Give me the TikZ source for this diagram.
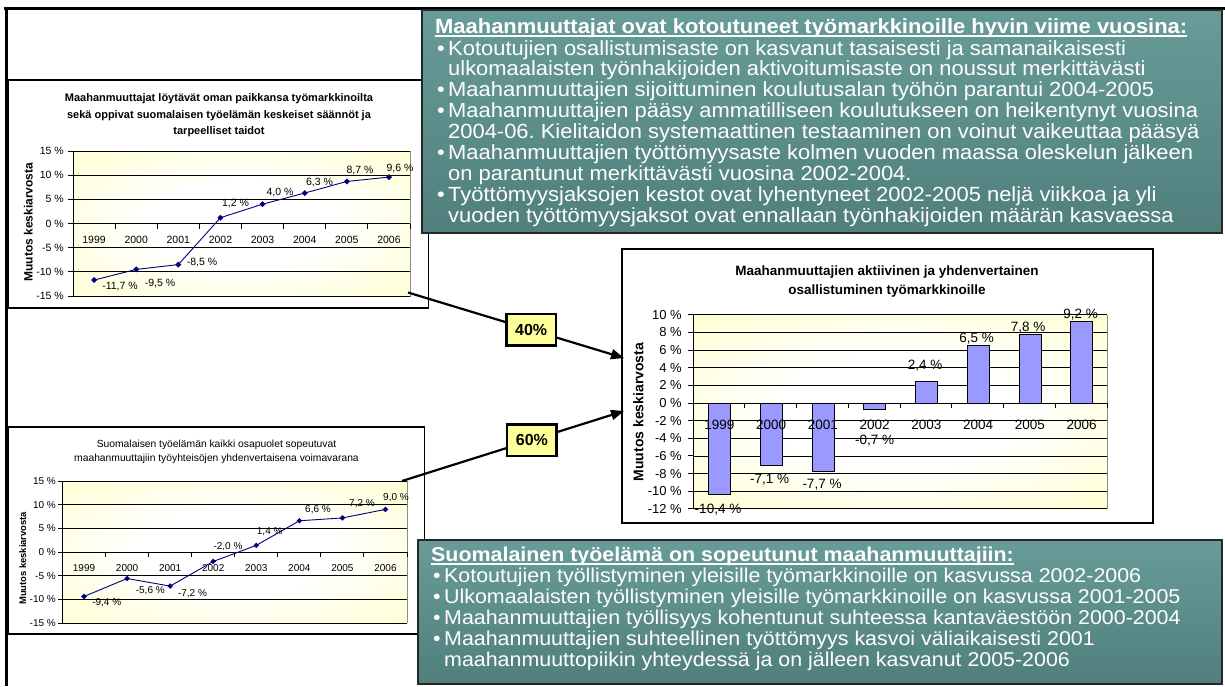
\documentclass[tikz,border=0pt]{standalone}
\usepackage{fontspec}
\setmainfont{Liberation Sans}
\newfontfamily\topboxfont[FakeStretch=1.07]{Liberation Sans}
\newfontfamily\lowboxfont[FakeStretch=1.07]{Liberation Sans}
\usetikzlibrary{arrows.meta}
\definecolor{plotyellow}{RGB}{255,255,180}
\definecolor{tealtop}{RGB}{104,156,152}
\definecolor{tealbot}{RGB}{80,127,124}
\definecolor{navyline}{RGB}{0,0,128}
\definecolor{barblue}{RGB}{153,153,255}
\definecolor{boxyellow}{RGB}{255,255,153}
\newcommand{\px}[1]{\fontsize{#1}{#1}\selectfont}
% soft white centre fading to pale yellow towards the plot edges
\pgfdeclareradialshading{plotglow}{\pgfpoint{0bp}{0bp}}{color(0bp)=(white); color(14bp)=(white); color(50bp)=(plotyellow); color(60bp)=(plotyellow)}
\frenchspacing
\begin{document}
\begin{tikzpicture}[x=1pt,y=-1pt,
  chartframe/.style={draw=black, line width=1.2},
  plotframe/.style={draw=black!45, line width=0.8},
  gridline/.style={draw=black, line width=0.8},
  axisline/.style={draw=black, line width=0.9},
  dataline/.style={draw=navyline, line width=0.9},
  barstyle/.style={draw=black, line width=0.8, fill=barblue},
  tlnum/.style={inner sep=0, font=\px{10.5}},
  blnum/.style={inner sep=0, font=\px{10}},
  rnum/.style={inner sep=0, font=\px{13.5}},
  tealbox/.style={draw=black!85, line width=1.8, top color=tealtop, bottom color=tealbot},
  tealtext/.style={inner sep=0, anchor=base west, text=white, font=\topboxfont\px{20.5}},
  tealhead/.style={tealtext, font=\topboxfont\bfseries\px{20.5}},
  lowtext/.style={tealtext, font=\lowboxfont\px{20}},
  lowhead/.style={tealtext, font=\lowboxfont\bfseries\px{20}},
  pctbox/.style={draw=black, line width=2.5, fill=boxyellow, minimum width=49.5, minimum height=31.5, inner sep=0, font=\bfseries\px{16}},
  link/.style={draw=black, line width=2.2, -{Triangle[length=13,width=10]}}
]
\useasboundingbox (0,0) rectangle (1225,686);
\fill[white] (0,0) rectangle (1225,686);

% page frame
\draw[line width=3] (4,8.5) -- (1225,8.5);
\draw[line width=3] (6.5,7) -- (6.5,686);

% chart frames
\draw[chartframe] (8,80) rectangle (428.5,308);
\draw[chartframe] (8,427) rectangle (424.5,634);
\draw[chartframe] (622,249) rectangle (1153,523);

% ---------- upper left line chart ----------
\node[align=center, font=\bfseries\fontsize{11}{16.5}\selectfont] (tltitle) at (219,115.5)
  {Maahanmuuttajat löytävät oman paikkansa työmarkkinoilta\\sekä oppivat suomalaisen työelämän keskeiset säännöt ja\\tarpeelliset taidot};
\shade[shading=plotglow] (73,151) rectangle (410,296.5);
\foreach \v in {15,10,...,-15}{
  \draw[gridline] (73,{223.5-4.833*\v}) -- (410,{223.5-4.833*\v});
  \draw[axisline] (73,{223.5-4.833*\v}) -- ++(-5,0);
  \node[tlnum, anchor=east] at (64,{223.5-4.833*\v}) {\v\ \%};
}
\draw[plotframe] (410,151) -- (410,296.5);
\draw[axisline] (73,151) -- (73,296.5);
\draw[axisline] (73,223.5) -- (410,223.5);
\foreach \k in {0,...,8} \draw[axisline] ({73+42.125*\k},223.5) -- ++(0,5);
\foreach \yr [count=\i from 0] in {1999,...,2006}
  \node[tlnum] at ({94.06+42.125*\i},240) {\yr};
\node[rotate=90, inner sep=0, font=\bfseries\px{12}] (tlytitle) at (28.3,222) {Muutos keskiarvosta};
\draw[dataline] (94.06,280.05) -- (136.19,269.41) -- (178.31,264.58) -- (220.44,217.70) -- (262.56,204.17) -- (304.69,193.05) -- (346.81,181.45) -- (388.94,177.10);
\foreach \x/\y in {94.06/280.05, 136.19/269.41, 178.31/264.58, 220.44/217.70, 262.56/204.17, 304.69/193.05, 346.81/181.45, 388.94/177.10}
  \fill[navyline] (\x,\y-3) -- (\x+3,\y) -- (\x,\y+3) -- (\x-3,\y) -- cycle;
\node[tlnum] at (120,287) {-11,7 \%};
\node[tlnum] at (160,283) {-9,5 \%};
\node[tlnum] at (202,262) {-8,5 \%};
\node[tlnum] at (235.5,203) {1,2 \%};
\node[tlnum] at (280,193) {4,0 \%};
\node[tlnum] at (319.5,182.5) {6,3 \%};
\node[tlnum] at (360,171) {8,7 \%};
\node[tlnum] at (400,168) {9,6 \%};

% ---------- lower left line chart ----------
\node[align=center, font=\fontsize{10.3}{14}\selectfont] (bltitle) at (216.5,452)
  {Suomalaisen työelämän kaikki osapuolet sopeutuvat\\maahanmuuttajiin työyhteisöjen yhdenvertaisena voimavarana};
\shade[shading=plotglow] (62.5,481) rectangle (407,623);
\foreach \v in {15,10,...,-15}{
  \draw[gridline] (62.5,{552-4.733*\v}) -- (407,{552-4.733*\v});
  \draw[axisline] (62.5,{552-4.733*\v}) -- ++(-5,0);
  \node[blnum, anchor=east] at (56,{552-4.733*\v}) {\v\ \%};
}
\draw[plotframe] (407,481) -- (407,623);
\draw[axisline] (62.5,481) -- (62.5,623);
\draw[axisline] (62.5,552) -- (407,552);
\foreach \k in {0,...,8} \draw[axisline] ({62.5+43.06*\k},552) -- ++(0,5);
\foreach \yr [count=\i from 0] in {1999,...,2006}
  \node[blnum] at ({84.03+43.06*\i},568) {\yr};
\node[rotate=90, inner sep=0, font=\bfseries\px{9.4}] (blytitle) at (22.7,558.3) {Muutos keskiarvosta};
\draw[dataline] (84.03,596.49) -- (127.09,578.50) -- (170.15,586.08) -- (213.21,561.47) -- (256.27,545.37) -- (299.33,520.76) -- (342.39,517.92) -- (385.45,509.40);
\foreach \x/\y in {84.03/596.49, 127.09/578.50, 170.15/586.08, 213.21/561.47, 256.27/545.37, 299.33/520.76, 342.39/517.92, 385.45/509.40}
  \fill[navyline] (\x,\y-2.8) -- (\x+2.8,\y) -- (\x,\y+2.8) -- (\x-2.8,\y) -- cycle;
\node[blnum] at (106.7,602.5) {-9,4 \%};
\node[blnum] at (150.3,591) {-5,6 \%};
\node[blnum] at (192.5,593.5) {-7,2 \%};
\node[blnum] at (228,547) {-2,0 \%};
\node[blnum] at (269.7,532) {1,4 \%};
\node[blnum] at (318,509.5) {6,6 \%};
\node[blnum] at (362,504) {7,2 \%};
\node[blnum] at (396,498) {9,0 \%};

% ---------- right bar chart ----------
\node[align=center, font=\bfseries\fontsize{13.5}{19}\selectfont] (rtitle) at (887,281.5)
  {Maahanmuuttajien aktiivinen ja yhdenvertainen\\osallistuminen työmarkkinoille};
\shade[shading=plotglow] (693,315) rectangle (1107,509);
\foreach \v in {10,8,...,-12}{
  \draw[gridline] (693,{403-8.818*\v}) -- (1107,{403-8.818*\v});
  \draw[axisline] (693,{403-8.818*\v}) -- ++(-5,0);
  \node[inner sep=0, font=\px{13}, anchor=east] at (682,{403-8.818*\v}) {\v\ \%};
}
\draw[plotframe] (1107,315) -- (1107,509);
\foreach \v [count=\i from 0] in {-10.4,-7.1,-7.7,-0.7,2.4,6.5,7.8,9.2}{
  \pgfmathsetmacro\cx{719.4+51.75*\i}
  \draw[barstyle] (\cx-11,403) rectangle (\cx+11,{403-8.818*\v});
}
\draw[axisline] (693,315) -- (693,509);
\draw[axisline] (693,403) -- (1107,403);
\foreach \k in {0,...,8} \draw[axisline] ({693+51.75*\k},403) -- ++(0,5);
\foreach \yr [count=\i from 0] in {1999,...,2006}
  \node[rnum] at ({719.4+51.75*\i},424.5) {\yr};
\node[rotate=90, inner sep=0, font=\bfseries\px{14}] (rytitle) at (638.3,412) {Muutos keskiarvosta};
\node[rnum] at (718,510) {-10,4 \%};
\node[rnum] at (769.7,480) {-7,1 \%};
\node[rnum] at (822,484.5) {-7,7 \%};
\node[rnum] at (874.5,441) {-0,7 \%};
\node[rnum] at (925,365.7) {2,4 \%};
\node[rnum] at (976.5,338.7) {6,5 \%};
\node[rnum] at (1028,327.5) {7,8 \%};
\node[rnum] at (1080.5,314.7) {9,2 \%};

% ---------- weighted links into the bar chart ----------
\coordinate (srcA) at (408,292.5);
\coordinate (dstA) at (624,358);
\coordinate (srcB) at (402,481);
\coordinate (dstB) at (624,411);
\draw[link] (srcA) -- node[pctbox, pos=0.57] (pA) {40\%} (dstA);
\draw[link] (srcB) -- node[pctbox, pos=0.585] (pB) {60\%} (dstB);

% ---------- upper summary box ----------
\draw[tealbox] (422,10) rectangle (1222,233);
\node[tealhead] (th) at (435,33) {Maahanmuuttajat ovat kotoutuneet työmarkkinoille hyvin viime vuosina:};
\draw[white, line width=1.5] ([yshift=-3pt]th.base west) -- ([yshift=-3pt]th.base east);
\node[tealtext] (t1) at (437,55) {\makebox[11pt][l]{•}Kotoutujien osallistumisaste on kasvanut tasaisesti ja samanaikaisesti};
\node[tealtext] (t2) at (448,75.9) {ulkomaalaisten työnhakijoiden aktivoitumisaste on noussut merkittävästi};
\node[tealtext] (t3) at (437,96.8) {\makebox[11pt][l]{•}Maahanmuuttajien sijoittuminen koulutusalan työhön parantui 2004-2005};
\node[tealtext] (t4) at (437,117.7) {\makebox[11pt][l]{•}Maahanmuuttajien pääsy ammatilliseen koulutukseen on heikentynyt vuosina};
\node[tealtext] (t5) at (448,138.6) {2004-06. Kielitaidon systemaattinen testaaminen on voinut vaikeuttaa pääsyä};
\node[tealtext] (t6) at (437,159.5) {\makebox[11pt][l]{•}Maahanmuuttajien työttömyysaste kolmen vuoden maassa oleskelun jälkeen};
\node[tealtext] (t7) at (448,180.4) {on parantunut merkittävästi vuosina 2002-2004.};
\node[tealtext] (t8) at (437,201.3) {\makebox[11pt][l]{•}Työttömyysjaksojen kestot ovat lyhentyneet 2002-2005 neljä viikkoa ja yli};
\node[tealtext] (t9) at (448,222.2) {vuoden työttömyysjaksot ovat ennallaan työnhakijoiden määrän kasvaessa};

% ---------- lower summary box ----------
\draw[tealbox] (418,540) rectangle (1222,684);
\node[lowhead] (bh) at (431,561) {Suomalainen työelämä on sopeutunut maahanmuuttajiin:};
\draw[white, line width=1.5] ([yshift=-3pt]bh.base west) -- ([yshift=-3pt]bh.base east);
\node[lowtext] (b1) at (433,582.5) {\makebox[11pt][l]{•}Kotoutujien työllistyminen yleisille työmarkkinoille on kasvussa 2002-2006};
\node[lowtext] (b2) at (433,603.4) {\makebox[11pt][l]{•}Ulkomaalaisten työllistyminen yleisille työmarkkinoille on kasvussa 2001-2005};
\node[lowtext] (b3) at (433,624.3) {\makebox[11pt][l]{•}Maahanmuuttajien työllisyys kohentunut suhteessa kantaväestöön 2000-2004};
\node[lowtext] (b4) at (433,645.2) {\makebox[11pt][l]{•}Maahanmuuttajien suhteellinen työttömyys kasvoi väliaikaisesti 2001};
\node[lowtext] (b5) at (444,666.1) {maahanmuuttopiikin yhteydessä ja on jälleen kasvanut 2005-2006};
\end{tikzpicture}
\end{document}
